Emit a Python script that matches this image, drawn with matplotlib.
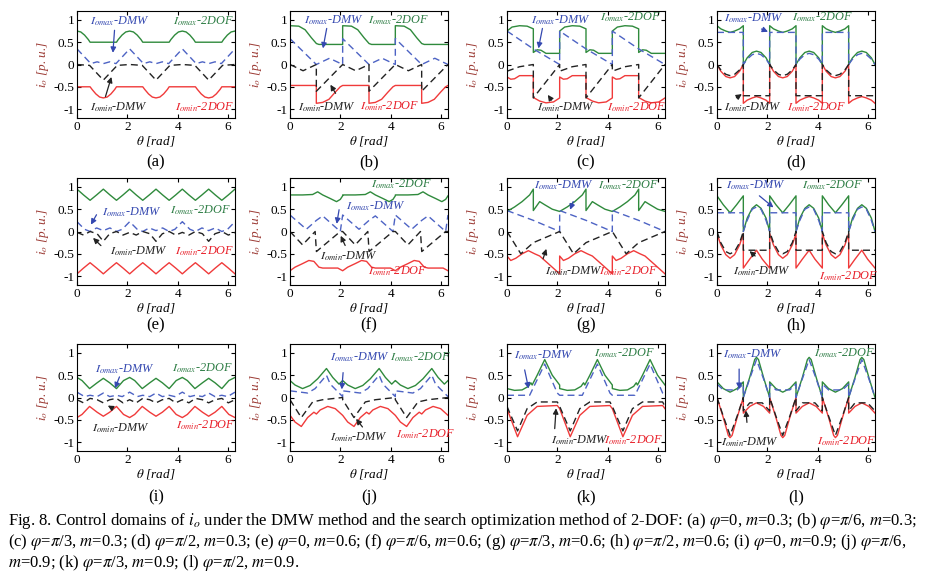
import numpy as np
import matplotlib
matplotlib.use('Agg')
import matplotlib.pyplot as plt

plt.rcParams['font.family'] = ['Liberation Serif', 'DejaVu Serif']
plt.rcParams['mathtext.fontset'] = 'stix'
plt.rcParams['axes.unicode_minus'] = False

# one period (2*pi/3) of each curve; repeated 3 times
P = 2 * np.pi / 3

# (a) phi=0, m=0.3
a_max2 = [(0, 0.75), (0.15, 0.73), (0.3, 0.66), (0.45, 0.56), (0.52, 0.5), (1.57, 0.5), (1.64, 0.56), (1.79, 0.66), (1.94, 0.73), (2.094, 0.75)]
a_min2 = [(0, -0.5), (0.52, -0.5), (0.6, -0.56), (0.75, -0.66), (0.9, -0.73), (1.047, -0.75), (1.2, -0.73), (1.35, -0.66), (1.5, -0.56), (1.57, -0.5), (2.094, -0.5)]
a_maxd = [(0, 0.35), (0.55, 0.02), (0.8, 0.06), (1.05, 0.02), (1.3, 0.06), (1.55, 0.02), (2.094, 0.35)]
a_mind = [(0, 0.0), (0.5, -0.02), (1.047, -0.35), (1.6, -0.02), (2.094, 0.0)]
# (b) phi=pi/6, m=0.3
b_max2 = [(0, 0.87), (0.35, 0.86), (0.6, 0.78), (0.85, 0.6), (1.05, 0.47), (1.15, 0.45), (2.094, 0.45)]
b_min2 = [(0, -0.47), (1.047, -0.47), (1.047, -0.87), (1.3, -0.85), (1.55, -0.78), (1.8, -0.62), (2.0, -0.5), (2.094, -0.47)]
b_maxd = [(0, 0.58), (1.047, 0.0), (1.57, 0.14), (2.094, 0.0)]
b_mind = [(0, 0.0), (0.52, -0.14), (1.047, 0.0), (1.047, -0.6), (2.094, 0.0)]
# (c) phi=pi/3, m=0.3
c_max2 = [(0, 0.75), (0.2, 0.84), (0.5, 0.87), (0.8, 0.86), (1.047, 0.8), (1.047, 0.27), (1.2, 0.33), (1.35, 0.32), (1.55, 0.25), (2.094, 0.25)]
c_min2 = [(0, -0.28), (0.15, -0.33), (0.3, -0.32), (0.5, -0.25), (1.047, -0.25), (1.047, -0.74), (1.3, -0.82), (1.55, -0.86), (1.85, -0.84), (2.094, -0.75)]
c_maxd = [(0, 0.75), (1.047, 0.35), (2.094, 0.0)]
c_mind = [(0, -0.15), (0.5, -0.05), (1.047, 0.0), (1.047, -0.75), (2.094, 0.0)]
# (d) phi=pi/2, m=0.3
d_max2 = [(0, 0.87), (0.15, 0.8), (0.35, 0.75), (0.52, 0.72), (0.7, 0.75), (0.9, 0.8), (1.047, 0.87), (1.047, 0.0), (1.2, 0.15), (1.4, 0.27), (1.57, 0.3), (1.75, 0.27), (1.95, 0.15), (2.094, 0.0)]
d_min2 = [(0, 0.0), (0.15, -0.15), (0.35, -0.27), (0.52, -0.3), (0.7, -0.27), (0.9, -0.15), (1.047, 0.0), (1.047, -0.87), (1.2, -0.8), (1.4, -0.75), (1.57, -0.72), (1.75, -0.75), (1.95, -0.8), (2.094, -0.87)]
d_maxd = [(0, 0.72), (1.047, 0.72), (1.047, 0.0), (1.2, 0.12), (1.4, 0.22), (1.57, 0.25), (1.75, 0.22), (1.95, 0.12), (2.094, 0.0)]
d_mind = [(0, 0.0), (0.15, -0.12), (0.35, -0.22), (0.52, -0.25), (0.7, -0.22), (0.9, -0.12), (1.047, 0.0), (1.047, -0.7), (2.094, -0.7)]
# (e) phi=0, m=0.6
e_max2 = [(0, 0.95), (0.26, 0.82), (0.52, 0.7), (0.78, 0.82), (1.047, 0.95), (1.31, 0.82), (1.57, 0.7), (1.83, 0.82), (2.094, 0.95)]
e_min2 = [(0, -0.95), (0.26, -0.82), (0.52, -0.7), (0.78, -0.82), (1.047, -0.95), (1.31, -0.82), (1.57, -0.7), (1.83, -0.82), (2.094, -0.95)]
e_maxd = [(0, 0.22), (0.3, 0.05), (0.52, 0.0), (0.78, 0.08), (1.047, 0.02), (1.31, 0.08), (1.57, 0.0), (1.8, 0.05), (2.094, 0.22)]
e_mind = [(0, -0.02), (0.26, -0.08), (0.52, 0.0), (0.8, -0.05), (1.047, -0.22), (1.3, -0.05), (1.57, 0.0), (1.83, -0.08), (2.094, -0.02)]
# (f) phi=pi/6, m=0.6
f_max2 = [(0, 0.82), (0.5, 0.82), (0.9, 0.83), (1.1, 0.89), (1.3, 0.82), (1.6, 0.74), (1.85, 0.67), (2.0, 0.72), (2.094, 0.8)]
f_min2 = [(0, -0.88), (0.2, -0.8), (0.5, -0.72), (0.75, -0.65), (0.95, -0.67), (1.15, -0.8), (1.3, -0.82), (1.9, -0.82), (2.094, -0.88)]
f_maxd = [(0, 0.37), (0.65, 0.05), (1.05, 0.25), (1.3, 0.35), (2.0, 0.0), (2.094, 0.37)]
f_mind = [(0, 0.0), (0.5, -0.3), (1.0, 0.0), (1.05, -0.45), (2.0, 0.0), (2.094, 0.0)]
# (g) phi=pi/3, m=0.6
g_max2 = [(0, 0.45), (0.3, 0.55), (0.6, 0.67), (0.9, 0.82), (1.047, 0.95), (1.047, 0.47), (1.3, 0.67), (1.5, 0.6), (1.8, 0.5), (2.094, 0.45)]
g_min2 = [(0, -0.55), (0.15, -0.65), (0.35, -0.6), (0.6, -0.5), (0.85, -0.43), (1.1, -0.5), (1.3, -0.55), (1.7, -0.75), (2.094, -0.95)]
g_maxd = [(0, 0.47), (1.047, 0.25), (2.094, 0.0)]
g_mind = [(0, 0.0), (0.55, -0.5), (1.047, -0.25), (2.094, 0.0)]
# (h) phi=pi/2, m=0.6
h_max2 = [(0, 0.8), (0.25, 0.6), (0.52, 0.42), (0.78, 0.6), (1.047, 0.8), (1.047, 0.0), (1.2, 0.3), (1.4, 0.52), (1.57, 0.6), (1.75, 0.52), (1.95, 0.3), (2.094, 0.0)]
h_min2 = [(0, -0.05), (0.15, -0.3), (0.35, -0.52), (0.52, -0.6), (0.7, -0.52), (0.9, -0.3), (1.047, -0.05), (1.047, -0.82), (1.3, -0.62), (1.57, -0.42), (1.8, -0.62), (2.094, -0.82)]
h_maxd = [(0, 0.42), (1.047, 0.42), (1.047, 0.0), (1.2, 0.25), (1.4, 0.5), (1.57, 0.55), (1.75, 0.5), (1.95, 0.25), (2.094, 0.0)]
h_mind = [(0, 0.0), (0.15, -0.25), (0.35, -0.45), (0.52, -0.5), (0.7, -0.45), (0.9, -0.25), (1.047, 0.0), (1.047, -0.42), (2.094, -0.42)]
# (i) phi=0, m=0.9
i_max2 = [(0, 0.45), (0.2, 0.38), (0.5, 0.2), (0.8, 0.33), (1.047, 0.43), (1.3, 0.33), (1.57, 0.2), (1.85, 0.38), (2.094, 0.45)]
i_min2 = [(0, -0.45), (0.2, -0.38), (0.5, -0.2), (0.8, -0.33), (1.047, -0.42), (1.3, -0.33), (1.57, -0.2), (1.85, -0.38), (2.094, -0.45)]
i_maxd = [(0, 0.12), (0.3, 0.02), (0.52, 0.05), (0.8, 0.02), (1.047, 0.1), (1.3, 0.02), (1.57, 0.05), (1.8, 0.02), (2.094, 0.12)]
i_mind = [(0, -0.05), (0.26, -0.12), (0.52, -0.02), (0.8, -0.05), (1.047, -0.12), (1.3, -0.05), (1.57, -0.02), (1.83, -0.12), (2.094, -0.05)]
# (j) phi=pi/6, m=0.9
j_max2 = [(0, 0.38), (0.2, 0.28), (0.5, 0.2), (0.8, 0.27), (1.1, 0.42), (1.45, 0.65), (1.7, 0.45), (1.95, 0.3), (2.094, 0.38)]
j_min2 = [(0, -0.4), (0.2, -0.55), (0.45, -0.65), (0.7, -0.45), (0.95, -0.33), (1.05, -0.37), (1.2, -0.28), (1.5, -0.2), (1.8, -0.25), (2.094, -0.4)]
j_maxd = [(0, 0.15), (0.7, 0.1), (1.0, 0.2), (1.45, 0.5), (1.6, 0.3), (2.094, 0.02)]
j_mind = [(0, -0.05), (0.45, -0.45), (0.9, -0.1), (1.3, -0.05), (2.094, 0.0)]
# (k) phi=pi/3, m=0.9
k_max2 = [(0, 0.2), (0.3, 0.16), (0.6, 0.17), (0.85, 0.25), (0.95, 0.33), (1.0, 0.28), (1.2, 0.5), (1.5, 0.85), (1.8, 0.5), (2.094, 0.28)]
k_min2 = [(0, -0.25), (0.42, -0.88), (0.8, -0.4), (1.2, -0.2), (2.0, -0.18), (2.094, -0.25)]
k_maxd = [(0, 0.05), (0.9, 0.05), (1.5, 0.75), (2.0, 0.1), (2.094, 0.05)]
k_mind = [(0, -0.2), (0.42, -0.75), (0.8, -0.25), (1.2, -0.1), (2.0, -0.1), (2.094, -0.2)]
# (l) phi=pi/2, m=0.9
l_max2 = [(0, 0.35), (0.25, 0.2), (0.52, 0.12), (0.8, 0.2), (1.047, 0.35), (1.047, 0.0), (1.3, 0.45), (1.5, 0.85), (1.57, 0.9), (1.65, 0.85), (1.85, 0.45), (2.094, 0.0)]
l_min2 = [(0, 0.0), (0.25, -0.45), (0.45, -0.85), (0.52, -0.9), (0.6, -0.85), (0.8, -0.45), (1.047, 0.0), (1.047, -0.35), (1.3, -0.2), (1.57, -0.12), (1.85, -0.2), (2.094, -0.35)]
l_maxd = [(0, 0.3), (0.25, 0.17), (0.8, 0.17), (1.047, 0.3), (1.047, 0.0), (1.3, 0.42), (1.57, 0.85), (1.85, 0.42), (2.094, 0.0)]
l_mind = [(0, 0.0), (0.25, -0.42), (0.52, -0.85), (0.8, -0.42), (1.047, 0.0), (1.047, -0.3), (1.3, -0.12), (1.8, -0.12), (2.094, -0.3)]

panel_ids = ['a', 'b', 'c', 'd', 'e', 'f', 'g', 'h', 'i', 'j', 'k', 'l']
curves = {
    'a': (a_max2, a_min2, a_maxd, a_mind), 'b': (b_max2, b_min2, b_maxd, b_mind),
    'c': (c_max2, c_min2, c_maxd, c_mind), 'd': (d_max2, d_min2, d_maxd, d_mind),
    'e': (e_max2, e_min2, e_maxd, e_mind), 'f': (f_max2, f_min2, f_maxd, f_mind),
    'g': (g_max2, g_min2, g_maxd, g_mind), 'h': (h_max2, h_min2, h_maxd, h_mind),
    'i': (i_max2, i_min2, i_maxd, i_mind), 'j': (j_max2, j_min2, j_maxd, j_mind),
    'k': (k_max2, k_min2, k_maxd, k_mind), 'l': (l_max2, l_min2, l_maxd, l_mind),
}

# label positions: (omax-DMW text, omax-2DOF text, omin-DMW text, omin-2DOF text,
#                   blue arrow tail, blue arrow tip, black arrow tail, black arrow tip)
labels = {
    'a': ((0.5, 0.97), (3.8, 0.97), (0.5, -0.95), (3.9, -0.95), (1.5, 0.83), (1.42, 0.2), (1.1, -0.78), (1.4, -0.22)),
    'b': ((0.55, 1.0), (3.1, 1.0), (0.32, -0.97), (2.77, -0.93), (1.48, 0.87), (1.29, 0.3), (1.87, -0.7), (1.55, -0.4)),
    'c': ((0.96, 1.0), (3.7, 1.05), (1.2, -0.97), (3.96, -0.97), (1.43, 0.87), (1.23, 0.3), (1.83, -0.85), (1.56, -0.63)),
    'd': ((0.26, 1.03), (3.0, 1.05), (0.26, -0.97), (2.8, -0.97), (1.67, 0.82), (2.13, 0.71), (0.68, -0.78), (1.08, -0.63)),
    'e': ((1.0, 0.43), (3.7, 0.47), (1.3, -0.44), (3.9, -0.44), (0.83, 0.43), (0.5, 0.1), (1.03, -0.36), (0.56, -0.1)),
    'f': ((2.24, 0.56), (3.22, 1.05), (1.18, -0.56), (3.1, -0.9), (1.97, 0.55), (1.84, 0.11), (2.24, -0.37), (1.97, -0.04)),
    'g': ((1.07, 1.03), (3.6, 1.03), (1.5, -0.9), (3.67, -0.9), (2.67, 0.73), (2.47, 0.43), (1.4, -0.67), (1.6, -0.33)),
    'h': ((0.36, 1.03), (3.4, 1.03), (0.62, -0.89), (4.04, -1.0), (1.6, 0.84), (2.33, 0.5), (1.6, -0.59), (1.21, -0.4)),
    'i': ((0.73, 0.64), (3.77, 0.66), (0.6, -0.69), (3.93, -0.63), (1.73, 0.52), (1.47, 0.15), (1.47, -0.26), (1.13, -0.15)),
    'j': ((1.6, 0.9), (3.97, 0.9), (1.6, -0.9), (4.23, -0.82), (2.12, 0.62), (2.05, 0.12), (2.95, -0.71), (2.56, -0.43)),
    'k': ((0.27, 0.94), (3.45, 1.0), (1.75, -0.97), (3.85, -0.97), (0.68, 0.68), (0.88, 0.14), (1.89, -0.76), (1.96, -0.18)),
    'l': ((0.23, 0.97), (3.87, 1.0), (0.17, -1.0), (3.97, -0.98), (0.88, 0.7), (0.88, 0.13), (1.2, -0.62), (1.14, -0.23)),
}

caption = [
    r"Fig. 8. Control domains of $i_o$ under the DMW method and the search optimization method of 2-DOF: (a) $\varphi$=0, $m$=0.3; (b) $\varphi$=$\pi$/6, $m$=0.3;",
    r"(c) $\varphi$=$\pi$/3, $m$=0.3; (d) $\varphi$=$\pi$/2, $m$=0.3; (e) $\varphi$=0, $m$=0.6; (f) $\varphi$=$\pi$/6, $m$=0.6; (g) $\varphi$=$\pi$/3, $m$=0.6; (h) $\varphi$=$\pi$/2, $m$=0.6; (i) $\varphi$=0, $m$=0.9; (j) $\varphi$=$\pi$/6,",
    r"$m$=0.9; (k) $\varphi$=$\pi$/3, $m$=0.9; (l) $\varphi$=$\pi$/2, $m$=0.9.",
]

GREEN = '#2f8a3c'
RED = '#f03a3a'
BLUE = '#4d63c4'
BLACK = '#222222'
BLUE_TXT = '#3448b0'
GREEN_TXT = '#2e7d45'
RED_TXT = '#e8202a'


def tile(pts):
    xs, ys = [], []
    for k in range(3):
        for x, y in pts:
            xs.append(x + k * P)
            ys.append(y)
    return xs, ys


W, H = 937, 580
fig = plt.figure(figsize=(W / 100, H / 100), dpi=100)
col_left = [77, 290, 507, 717]
row_top = [11, 178, 344]
aw, ah = 158, 107
sub_y = [162, 325, 497]
FS_LBL = 8.8

for n, pid in enumerate(panel_ids):
    r, c = divmod(n, 4)
    l, t = col_left[c], row_top[r]
    ax = fig.add_axes([l / W, 1 - (t + ah) / H, aw / W, ah / H])
    g, rd, bl, bk = curves[pid]
    ax.plot(*tile(g), color=GREEN, lw=1.0)
    ax.plot(*tile(rd), color=RED, lw=1.0)
    ax.plot(*tile(bl), color=BLUE, lw=1.0, dashes=(5, 3))
    ax.plot(*tile(bk), color=BLACK, lw=1.0, dashes=(5, 3))
    ax.set_xlim(0, 2 * np.pi)
    ax.set_ylim(-1.2, 1.2)
    ax.set_xticks([0, 2, 4, 6])
    ax.set_yticks([-1, -0.5, 0, 0.5, 1])
    ax.set_yticklabels(['-1', '-0.5', '0', '0.5', '1'])
    ax.tick_params(direction='in', top=True, right=True, labelsize=9.5, length=3, pad=2)
    ax.set_xlabel(r'$\theta$ [rad]', fontsize=9.5, fontstyle='italic', labelpad=1)
    ax.set_ylabel(r'$i_o$ [p. u.]', fontsize=9.5, fontstyle='italic', color='#9c3b35', labelpad=2)

    tb, tg, tk, tr, ba, bb, ka, kb = labels[pid]
    ax.text(tb[0], tb[1], r'$I_{omax}$-DMW', color=BLUE_TXT, fontsize=FS_LBL, fontstyle='italic', va='center')
    ax.text(tg[0], tg[1], r'$I_{omax}$-2DOF', color=GREEN_TXT, fontsize=FS_LBL, fontstyle='italic', va='center')
    ax.text(tk[0], tk[1], r'$I_{omin}$-DMW', color=BLACK, fontsize=FS_LBL, fontstyle='italic', va='center')
    ax.text(tr[0], tr[1], r'$I_{omin}$-2DOF', color=RED_TXT, fontsize=FS_LBL, fontstyle='italic', va='center')
    ax.annotate('', xy=bb, xytext=ba,
                arrowprops=dict(arrowstyle='-|>', color=BLUE_TXT, lw=0.9, mutation_scale=8))
    ax.annotate('', xy=kb, xytext=ka,
                arrowprops=dict(arrowstyle='-|>', color=BLACK, lw=0.9, mutation_scale=8))

    fig.text((l + aw / 2) / W, 1 - sub_y[r] / H, '(%s)' % pid, ha='center', va='center', fontsize=12)

for k, line in enumerate(caption):
    fig.text(8 / W, 1 - (521 + 21 * k) / H, line, ha='left', va='center', fontsize=12)

fig.savefig('out.png', dpi=100)
